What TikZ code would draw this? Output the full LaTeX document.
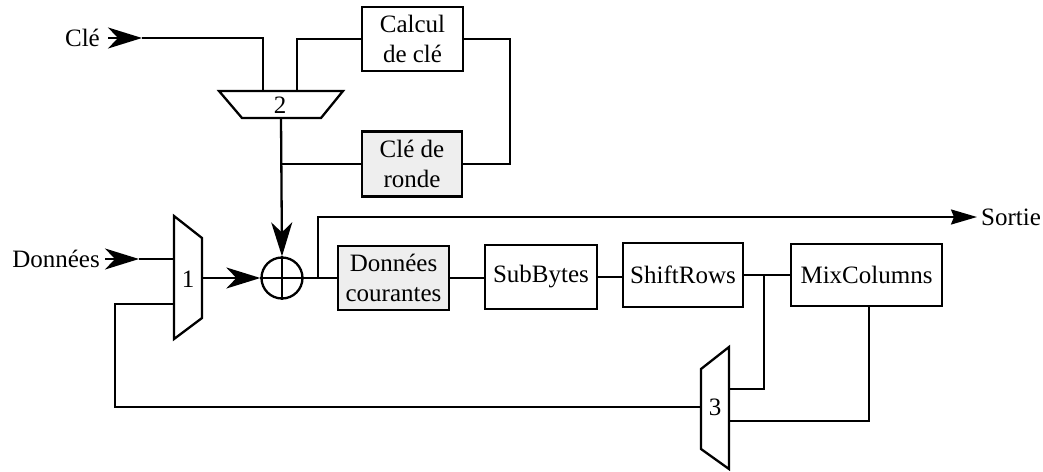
\documentclass[tikz,border=0pt]{standalone}
\usepackage{fontspec}
\setmainfont{Liberation Serif}
\usetikzlibrary{arrows.meta}
\definecolor{boxgray}{HTML}{EEEEEE}
\tikzset{
  wire/.style={line width=2.3pt, line join=miter},
  blk/.style={draw, line width=2.3pt, inner sep=0pt, align=center, font=\fontsize{25}{30}\selectfont},
  gblk/.style={blk, fill=boxgray},
  lbl/.style={inner sep=0pt, font=\fontsize{25}{30}\selectfont},
  bigarr/.style={wire, -{Stealth[length=34pt,width=21pt,inset=10pt]}},
  smallarr/.style={wire, -{Stealth[length=26pt,width=15pt,inset=3pt]}},
}
\begin{document}
\begin{tikzpicture}[x=1pt,y=-1pt]
\useasboundingbox (0,0) rectangle (1043,471);

% boxes
\node[blk, minimum width=101pt, minimum height=64pt] (calc) at (412.5,39) {Calcul\\de clé};
\node[gblk, minimum width=100pt, minimum height=65pt] (ronde) at (412,164) {Clé de\\ronde};
\node[gblk, minimum width=111pt, minimum height=64pt] (cour) at (393.5,278) {Données\\courantes};
\node[blk, minimum width=112pt, minimum height=64pt] (sub) at (541,277) {SubBytes};
\node[blk, minimum width=120pt, minimum height=64pt] (shift) at (683,275) {ShiftRows};
\node[blk, minimum width=151pt, minimum height=62pt] (mix) at (866.5,275) {MixColumns};

% multiplexers
\draw[wire] (219,91) -- (343,91) -- (321,118) -- (242,118) -- cycle;
\node[lbl] (m2) at (280,105) {2};
\draw[wire] (174,216) -- (202,238) -- (202,318) -- (174,339) -- cycle;
\node[lbl] (m1) at (188,279) {1};
\draw[wire] (701,369) -- (729,347) -- (729,469) -- (701,449) -- cycle;
\node[lbl] (m3) at (715,407) {3};

% mux ports
\coordinate (m2a) at (263,91);
\coordinate (m2b) at (297,91);
\coordinate (m2o) at (281,118);
\coordinate (m1a) at (174,259);
\coordinate (m1b) at (174,304);
\coordinate (m1o) at (202,278);
\coordinate (m3a) at (729,389);
\coordinate (m3b) at (729,421);
\coordinate (m3o) at (701,407);

% xor
\node[draw, circle, line width=2.3pt, minimum size=41pt, inner sep=0pt] (xor) at (282,278) {};
\draw[wire] (xor.north) -- (xor.south);
\draw[wire] (xor.west) -- (xor.east);

% labels
\node[lbl, anchor=east] (cle) at (100,38) {Clé};
\node[lbl, anchor=east] (don) at (100,259) {Données};
\node[lbl, anchor=west] (sortie) at (981,217) {Sortie};

\coordinate (cletail) at (108,38);
\coordinate (cletip) at (142,38);
\coordinate (dontail) at (105,259);
\coordinate (dontip) at (139,259);
\coordinate (br1) at (318,278);
\coordinate (sortietip) at (977,217);
\coordinate (br2) at (764,275);
\coordinate (loopx) at (115,304);
\coordinate (keyx) at (510,39);
\coordinate (mixdown) at (869,0);

% connectors
\draw[bigarr] (cletail) -- (cletip);
\draw[wire] (cletip) -| (m2a);
\draw[wire] (m2b) |- (calc.west);
\draw[wire] (calc.east) -- (keyx) |- (ronde.east);
\draw[wire] (ronde.west) -- (ronde.west -| m2o);
\draw[bigarr] (m2o) -- (xor.north);

\draw[bigarr] (dontail) -- (dontip);
\draw[wire] (dontip) -- (m1a);
\draw[bigarr] (m1o) -- (xor.west);
\draw[wire] (xor.east) -- (cour.west);
\draw[smallarr] (br1) |- (sortietip);

\draw[wire] (cour.east) -- (cour.east -| sub.west);
\draw[wire] (sub.east) -- (sub.east -| shift.west);
\draw[wire] (shift.east) -- (mix.west);
\draw[wire] (br2) |- (m3a);
\draw[wire] (mix.south -| mixdown) |- (m3b);
\draw[wire] (m3o) -| (loopx) -- (m1b);
\end{tikzpicture}
\end{document}
